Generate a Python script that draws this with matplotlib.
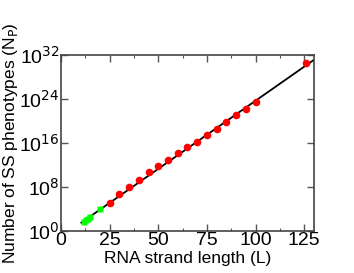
import matplotlib
matplotlib.use("Agg")
import matplotlib.pyplot as plt
import numpy as np
from matplotlib.ticker import MultipleLocator, FixedLocator

plt.rcParams['font.family'] = ['Liberation Sans', 'DejaVu Sans']

# red points: strand length and log10 of phenotype count
red_L = [25, 30, 35, 40, 45, 50, 55, 60, 65, 70, 75, 80, 85, 90, 95, 100, 126]
red_exp = [5.0, 6.7, 8.0, 9.2, 10.7, 11.8, 12.9, 14.1, 15.2, 16.2,
           17.5, 18.6, 19.8, 21.1, 22.1, 23.4, 30.5]

# green points (exhaustively enumerated short strands)
green_L = [12, 13, 14, 15, 20]
green_exp = [1.6, 1.95, 2.25, 2.5, 3.95]

# fitted line endpoints
fit_L = [10.5, 130]
fit_exp = [1.5, 31.1]

fig = plt.figure(figsize=(3.54, 2.73), dpi=100)
ax = fig.add_axes([0.172, 0.154, 0.715, 0.645])

ax.plot(fit_L, 10.0 ** np.array(fit_exp), color='black', lw=1.3, zorder=2)
ax.plot(red_L, 10.0 ** np.array(red_exp), 'o', color='#ff0000', ms=5.5,
        mec='none', zorder=3)
ax.plot(green_L, 10.0 ** np.array(green_exp), 's', color='#00ff00', ms=4.5,
        mec='none', zorder=3)

ax.set_yscale('log')
ax.set_xlim(0, 130)
ax.set_ylim(1, 1e32)

ax.xaxis.set_major_locator(MultipleLocator(25))
ax.xaxis.set_minor_locator(MultipleLocator(12.5))
ax.yaxis.set_major_locator(FixedLocator([1e0, 1e8, 1e16, 1e24, 1e32]))
ax.yaxis.set_minor_locator(FixedLocator([]))
ax.set_yticklabels(['10$^{0}$', '10$^{8}$', '10$^{16}$', '10$^{24}$', '10$^{32}$'])

ax.tick_params(which='both', direction='in', top=True, right=True,
               labelsize=14, color='#555555', pad=1)
ax.tick_params(which='major', length=5, width=1)
ax.tick_params(which='minor', length=2.5, width=0.8)
for s in ax.spines.values():
    s.set_color('#444444')
    s.set_linewidth(1.2)

ax.set_xlabel('RNA strand length (L)', fontsize=12.5, labelpad=1)
ax.set_ylabel('Number of SS phenotypes (N$_\\mathrm{P}$)', fontsize=12.5)
ax.yaxis.set_label_coords(-0.16, 0.5)

fig.savefig('out.png', dpi=100)
